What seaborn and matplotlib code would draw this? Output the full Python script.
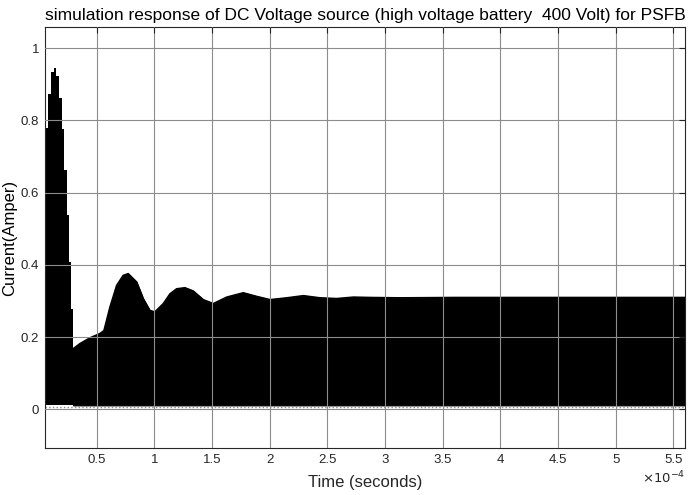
import numpy as np
import matplotlib.pyplot as plt
import seaborn as sns

# time in units of 1e-4 s
# start-up burst: envelope is staircase (one value per switching period)
step_t = [0.049, 0.058, 0.081, 0.104, 0.127, 0.150, 0.173, 0.196, 0.219, 0.242, 0.261, 0.280, 0.294]
step_top = [0.643, 0.778, 0.874, 0.933, 0.946, 0.922, 0.863, 0.775, 0.664, 0.537, 0.408, 0.279, 0.168]

# damped settling of the upper envelope
env_t = [0.294, 0.352, 0.439, 0.526, 0.561, 0.613, 0.671, 0.728, 0.772, 0.845, 0.902,
         0.960, 1.003, 1.076, 1.134, 1.192, 1.264, 1.336, 1.423, 1.510, 1.626, 1.770,
         1.886, 2.002, 2.147, 2.291, 2.436, 2.581, 2.725, 2.870, 3.130, 3.600, 4.200,
         4.800, 5.300, 5.600]
env_top = [0.168, 0.182, 0.198, 0.210, 0.218, 0.283, 0.343, 0.371, 0.376, 0.353, 0.307,
           0.274, 0.270, 0.293, 0.320, 0.334, 0.337, 0.328, 0.304, 0.293, 0.311, 0.323,
           0.313, 0.304, 0.309, 0.315, 0.309, 0.307, 0.311, 0.310, 0.309, 0.310, 0.310,
           0.310, 0.310, 0.310]

# lower envelope of the switching ripple
bottom_level = 0.011

x_ticks = [0.5, 1, 1.5, 2, 2.5, 3, 3.5, 4, 4.5, 5, 5.5]
x_tick_labels = ["0.5", "1", "1.5", "2", "2.5", "3", "3.5", "4", "4.5", "5", "5.5"]
y_ticks = [0, 0.2, 0.4, 0.6, 0.8, 1.0]
y_tick_labels = ["0", "0.2", "0.4", "0.6", "0.8", "1"]

sns.set_style("white")
plt.rcParams['font.family'] = ['Liberation Sans', 'DejaVu Sans']

fig = plt.figure(figsize=(7, 4.95), dpi=100)
ax = fig.add_axes([0.064, 0.095, 0.915, 0.850])

ax.fill_between(step_t, bottom_level, step_top, step='post', color='black', lw=0)
ax.fill_between(env_t, bottom_level, env_top, color='black', lw=0.8, edgecolor='black')
sns.lineplot(x=env_t, y=env_top, ax=ax, color='black', lw=1, sort=False)
ax.plot([step_t[0], env_t[-1]], [bottom_level * 0.5] * 2, color='#888888', lw=1, ls=':')

ax.set_xlim(0.049, 5.604)
ax.set_ylim(-0.107, 1.058)
ax.set_xticks(x_ticks)
ax.set_xticklabels(x_tick_labels)
ax.set_yticks(y_ticks)
ax.set_yticklabels(y_tick_labels)
ax.grid(True, color='#8c8c8c', lw=0.8)
ax.set_axisbelow(False)
for sp in ax.spines.values():
    sp.set_color('#262626')
    sp.set_linewidth(0.8)
ax.tick_params(direction='in', top=True, right=True, length=4, labelsize=9.5,
               colors='#262626', labelcolor='#262626', pad=4)

ax.set_title("simulation response of DC Voltage source (high voltage battery  400 Volt) for PSFB",
             fontsize=12.5, color='black', pad=5)
ax.set_xlabel("Time (seconds)", fontsize=12, color='#262626', labelpad=7)
ax.set_ylabel("Current(Amper)", fontsize=12, color='black', labelpad=3)
ax.text(1.0, -0.072, r"$\times10^{-4}$", transform=ax.transAxes, ha='right', va='center',
        fontsize=9.5, color='#262626')

fig.savefig("out.png", dpi=100)
